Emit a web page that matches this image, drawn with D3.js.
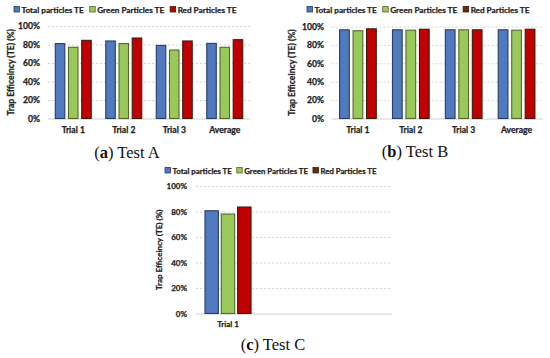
<!DOCTYPE html>
<html>
<head>
<meta charset="utf-8">
<script src="https://cdn.jsdelivr.net/npm/d3@7"></script>
<style>
  body { margin: 0; background: #fff; }
  svg { display: block; }
  .tick text, .lbl { font-family: Lato, sans-serif; font-weight: bold; fill: #222; stroke: #222; stroke-width: 0.25px; }
</style>
</head>
<body>
<svg width="550" height="358"></svg>
<script>
"use strict"

var series = ["Total particles TE", "Green Particles TE", "Red Particles TE"];
var fills   = ["#5079BF", "#98C95A", "#C00000"];
var strokes = ["#253F63", "#56672C", "#3E1A0C"];
var yTicks = [0, 20, 40, 60, 80, 100];

var catsA  = ["Trial 1", "Trial 2", "Trial 3", "Average"];
var totalA = [81, 83.8, 79, 81.2];
var greenA = [77, 81, 74, 77];
var redA   = [84.5, 87, 83.8, 85.2];

var catsB  = ["Trial 1", "Trial 2", "Trial 3", "Average"];
var totalB = [96.4, 96.4, 96.4, 96.4];
var greenB = [95.4, 96, 96.4, 96];
var redB   = [97.5, 97, 96.4, 97];

var catsC  = ["Trial 1"];
var totalC = [80.6];
var greenC = [78];
var redC   = [83.5];

var svg = d3.select("svg");

function drawPanel(p) {
	var g = svg.append("g");
	var y = d3.scaleLinear().domain([0, 100]).range([p.y0, p.y1]);
	var x = d3.scaleBand().domain(p.cats).range(p.xr).paddingInner(0).paddingOuter(0);
	var xs = d3.scaleBand().domain(d3.range(3)).range([0, x.bandwidth()])
	           .paddingInner(p.inner).paddingOuter(p.outer);

	// gridlines
	g.selectAll(".grid").data(yTicks.slice(1)).enter()
	 .append("line")
	 .attr("x1", p.gx[0]).attr("x2", p.gx[1])
	 .attr("y1", function(d){ return y(d) + 0.5; })
	 .attr("y2", function(d){ return y(d) + 0.5; })
	 .style("stroke", "#c8c8c8")
	 .style("stroke-dasharray", "2,2")
	 .style("stroke-width", 0.8);
	g.append("line")
	 .attr("x1", p.gx[0]).attr("x2", p.gx[1])
	 .attr("y1", y(0) + 0.5).attr("y2", y(0) + 0.5)
	 .style("stroke", "#d0d0d0");

	var yAxis = d3.axisLeft(y).tickValues(yTicks)
	              .tickFormat(function(d){ return d + "%"; })
	              .tickSize(0).tickPadding(0);
	g.append("g")
	 .attr("transform", "translate(" + p.tickX + ",0)")
	 .call(yAxis)
	 .call(function(a){ a.select(".domain").remove(); })
	 .selectAll("text").style("font-size", p.fs + "px");

	var xAxis = d3.axisBottom(x).tickSize(0).tickPadding(0);
	g.append("g")
	 .attr("transform", "translate(0," + p.labY + ")")
	 .call(xAxis)
	 .call(function(a){ a.select(".domain").remove(); })
	 .selectAll("text").style("font-size", p.fs + "px");

	// bars
	var rows = p.cats.map(function(c, i){
		return p.vals.map(function(v, s){ return {cat: c, s: s, v: v[i]}; });
	});
	g.selectAll(".grp").data(rows).enter()
	 .append("g")
	 .attr("transform", function(d){ return "translate(" + x(d[0].cat) + ",0)"; })
	 .selectAll("rect").data(function(d){ return d; }).enter()
	 .append("rect")
	 .attr("x", function(d){ return xs(d.s); })
	 .attr("width", xs.bandwidth())
	 .attr("y", function(d){ return y(d.v); })
	 .attr("height", function(d){ return y(0) - y(d.v); })
	 .style("fill", function(d){ return fills[d.s]; })
	 .style("stroke", function(d){ return strokes[d.s]; })
	 .style("stroke-width", 1.1);

	// y title
	g.append("text")
	 .attr("class", "lbl")
	 .attr("transform", "translate(" + p.titleX + "," + ((p.y0 + p.y1) / 2) + ") rotate(-90)")
	 .attr("text-anchor", "middle")
	 .style("font-size", p.fs + "px")
	 .text("Trap Efficeincy (TE) (%)");

	// legend
	var lg = g.append("g").attr("transform", "translate(" + p.legX + "," + p.legY + ")");
	var cx = 0;
	series.forEach(function(name, s){
		var item = lg.append("g").attr("transform", "translate(" + cx + ",0)");
		item.append("rect")
		    .attr("x", 0).attr("y", -3.5).attr("width", 5.5).attr("height", 5.5)
		    .style("fill", p.legFill[s]).style("stroke", strokes[s]).style("stroke-width", 0.8);
		var t = item.append("text")
		    .attr("class", "lbl")
		    .attr("x", 7.5).attr("y", 2.8)
		    .style("font-size", p.legFs + "px")
		    .text(name);
		cx += 7.5 + t.node().getComputedTextLength() + p.legGap;
	});

	// caption
	var cap = g.append("text")
	 .attr("x", p.capX).attr("y", p.capY)
	 .attr("text-anchor", "middle")
	 .style("font-family", "'Liberation Serif', serif")
	 .style("font-size", "16.5px")
	 .style("fill", "#111");
	cap.append("tspan").text("(");
	cap.append("tspan").style("font-weight", "bold").text(p.letter);
	cap.append("tspan").text(") " + p.caption);
}

drawPanel({
	cats: catsA, vals: [totalA, greenA, redA],
	y0: 118.5, y1: 26, xr: [48, 250], gx: [48, 250], inner: 0.28, outer: 0.55,
	tickX: 40, labY: 127, titleX: 14, fs: 8.6,
	legX: 14, legY: 10, legFs: 8.2, legGap: 6, legFill: fills,
	capX: 127, capY: 158, letter: "a", caption: "Test A"
});

drawPanel({
	cats: catsB, vals: [totalB, greenB, redB],
	y0: 118.5, y1: 26.5, xr: [331.5, 543], gx: [331.5, 543], inner: 0.28, outer: 0.6,
	tickX: 324, labY: 127, titleX: 295, fs: 8.6,
	legX: 307, legY: 10, legFs: 8.2, legGap: 6, legFill: [fills[0], fills[1], "#6B2A0E"],
	capX: 415, capY: 157, letter: "b", caption: "Test B"
});

drawPanel({
	cats: catsC, vals: [totalC, greenC, redC],
	y0: 313.5, y1: 186, xr: [196, 260], gx: [196, 392], inner: 0.18, outer: 0.55,
	tickX: 187, labY: 321, titleX: 162, fs: 8,
	legX: 165, legY: 171, legFs: 7.8, legGap: 5, legFill: [fills[0], fills[1], "#6B2A0E"],
	capX: 273, capY: 350, letter: "c", caption: "Test C"
});
</script>
</body>
</html>
